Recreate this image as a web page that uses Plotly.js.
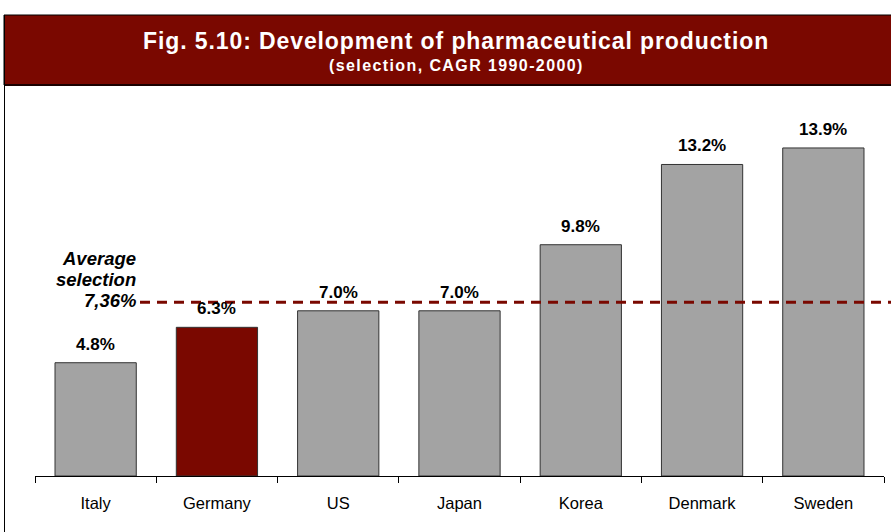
<!DOCTYPE html>
<html>
<head>
<meta charset="utf-8">
<script src="https://cdn.plot.ly/plotly-3.0.1.min.js"></script>
<style>html,body{margin:0;padding:0;background:#fff;}#chart{width:891px;height:532px;}</style>
</head>
<body>
<div id="chart"></div>
<script>
const categories = ["Italy", "Germany", "US", "Japan", "Korea", "Denmark", "Sweden"];
const values = [4.8, 6.3, 7.0, 7.0, 9.8, 13.2, 13.9];
const valueLabels = ["4.8%", "6.3%", "7.0%", "7.0%", "9.8%", "13.2%", "13.9%"];
const highlight = "Germany";
const averageValue = 7.36;
const averageLines = ["Average", "selection", "7,36%"];
const titleText = "Fig. 5.10: Development of pharmaceutical production";
const subtitleText = "(selection, CAGR 1990-2000)";

const RED = "#7a0800";
const GRAY = "#a3a3a3";
const FONT = "Liberation Sans, Arial, sans-serif";

// plot area in pixels: x 35..884, y 100..476
const L = 35, R = 7, T = 100, B = 56;
const W = 891 - L - R, H = 532 - T - B;
const px = x => (x - L) / W;
const py = y => (532 - B - y) / H;

const trace = {
  type: "bar",
  x: categories,
  y: values,
  marker: {
    color: categories.map(c => c === highlight ? RED : GRAY),
    line: {color: "#333", width: 1}
  },
  hoverinfo: "none"
};

const valueAnnotations = categories.map((c, i) => ({
  xref: "x", yref: "y", x: c, y: values[i],
  text: "<b>" + valueLabels[i] + "</b>", showarrow: false,
  xanchor: "center", yanchor: "bottom", yshift: 7,
  font: {family: FONT, size: 17, color: "#000"}
}));

const avgY = [258, 279, 300];
const averageAnnotations = averageLines.map((t, i) => ({
  xref: "paper", yref: "paper", x: px(138), y: py(avgY[i]),
  text: "<b><i>" + t + "</i></b>", showarrow: false,
  xanchor: "right", yanchor: "middle",
  font: {family: FONT, size: 18.5, color: "#000"}
}));

const layout = {
  width: 891, height: 532,
  margin: {l: L, r: R, t: T, b: B, pad: 0},
  paper_bgcolor: "#fff",
  plot_bgcolor: "#fff",
  showlegend: false,
  bargap: 0.33,
  font: {family: FONT, color: "#000"},
  xaxis: {
    type: "category",
    range: [-0.5, 6.5],
    tickson: "boundaries",
    ticks: "outside",
    ticklen: 6,
    tickcolor: "#000",
    tickwidth: 1,
    ticklabelstandoff: 12,
    showline: true,
    linecolor: "#000",
    linewidth: 1,
    showgrid: false,
    tickfont: {family: FONT, size: 16.5, color: "#000"},
    fixedrange: true
  },
  yaxis: {
    range: [0, (476 - 100) / 23.6],
    visible: false,
    showgrid: false,
    zeroline: false,
    fixedrange: true
  },
  shapes: [
    {type: "rect", xref: "paper", yref: "paper",
     x0: px(4), x1: px(900), y0: py(85), y1: py(15),
     fillcolor: RED, line: {color: "#000", width: 1}, layer: "above"},
    {type: "line", xref: "paper", yref: "paper",
     x0: px(4), x1: px(900), y0: py(85), y1: py(85),
     line: {color: "#1a0000", width: 2}},
    {type: "line", xref: "paper", yref: "paper",
     x0: px(4.5), x1: px(4.5), y0: py(15), y1: py(540),
     line: {color: "#000", width: 1}},
    {type: "line", xref: "paper", yref: "y",
     x0: px(140), x1: px(895), y0: averageValue, y1: averageValue,
     line: {color: RED, width: 3, dash: "10px,7px"}}
  ],
  annotations: [
    {xref: "paper", yref: "paper", x: px(455.5), y: py(41),
     text: "<b><span style=\"letter-spacing:0.9px\">" + titleText + "</span></b>", showarrow: false,
     font: {family: FONT, size: 23, color: "#fff"}, xanchor: "center", yanchor: "middle"},
    {xref: "paper", yref: "paper", x: px(456), y: py(65),
     text: "<b><span style=\"letter-spacing:1.4px\">" + subtitleText + "</span></b>", showarrow: false,
     font: {family: FONT, size: 16, color: "#fff"}, xanchor: "center", yanchor: "middle"}
  ].concat(valueAnnotations, averageAnnotations)
};

Plotly.newPlot("chart", [trace], layout, {staticPlot: true, displayModeBar: false});
</script>
</body>
</html>
